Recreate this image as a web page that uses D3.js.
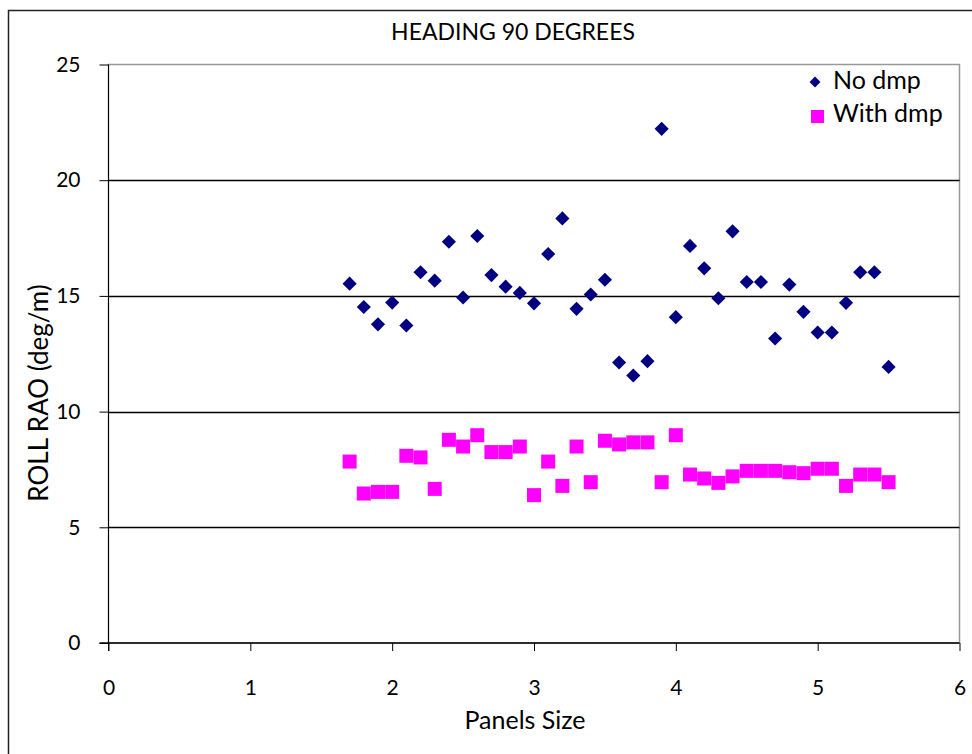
<!DOCTYPE html>
<html><head><meta charset="utf-8">
<script src="https://cdn.jsdelivr.net/npm/d3@7"></script>
<style>body{margin:0;background:#fff}svg{display:block}text{font-family:Lato,"Open Sans",sans-serif;fill:#000}</style>
</head><body><svg id="c" width="972" height="754"></svg>
<script>
const panelSizes=[1.7,1.8,1.9,2.0,2.1,2.2,2.3,2.4,2.5,2.6,2.7,2.8,2.9,3.0,3.1,3.2,3.3,3.4,3.5,3.6,3.7,3.8,3.9,4.0,4.1,4.2,4.3,4.4,4.5,4.6,4.7,4.8,4.9,5.0,5.1,5.2,5.3,5.4,5.5];
const noDmp=[15.53,14.52,13.77,14.71,13.72,16.02,15.66,17.34,14.93,17.59,15.90,15.40,15.13,14.68,16.81,18.35,14.44,15.06,15.70,12.12,11.56,12.18,22.22,14.08,17.16,16.19,14.90,17.79,15.60,15.60,13.16,15.49,14.31,13.42,13.42,14.70,16.02,16.02,11.93];
const withDmp=[7.84,6.46,6.53,6.53,8.09,8.02,6.66,8.78,8.49,8.98,8.25,8.25,8.49,6.39,7.84,6.79,8.49,6.95,8.74,8.58,8.67,8.67,6.95,8.98,7.28,7.11,6.92,7.20,7.44,7.44,7.44,7.38,7.34,7.53,7.53,6.79,7.28,7.28,6.95];
const xTicks=[0,1,2,3,4,5,6];
const yTicks=[0,5,10,15,20,25];
const seriesNames=["No dmp","With dmp"];
const title="HEADING 90 DEGREES", xTitle="Panels Size", yTitle="ROLL RAO (deg/m)";

const svg=d3.select("#c");
const L=108.5,R=959.5,T=64.5,B=643;
const x=d3.scaleLinear().domain([0,6]).range([L,R]);
const y=d3.scaleLinear().domain([0,25]).range([B,T]);

// outer border
svg.append("path").attr("d","M8.5,754 V10.5 H972").attr("fill","none").attr("stroke","#222").attr("stroke-width",1.5);
// plot area border
svg.append("rect").attr("x",L).attr("y",T).attr("width",R-L).attr("height",B-T).attr("fill","none").attr("stroke","#999").attr("stroke-width",1.5);
// gridlines
svg.append("g").selectAll("line").data(yTicks.filter(d=>d>0&&d<25)).join("line")
  .attr("x1",L).attr("x2",R).attr("y1",d=>Math.round(y(d))+0.5).attr("y2",d=>Math.round(y(d))+0.5)
  .attr("stroke","#000").attr("stroke-width",1.3);

// axes
const ya=svg.append("g").attr("transform",`translate(${L},0)`)
  .call(d3.axisLeft(y).tickValues(yTicks).tickFormat(d3.format("d")).tickSize(9).tickPadding(19));
ya.selectAll("text").style("font-size","21px").attr("fill","#000");
ya.selectAll("line").attr("stroke","#000");
ya.select(".domain").attr("stroke","#000").attr("d",`M0,${T}V${B+8}`);
const xa=svg.append("g").attr("transform",`translate(0,${B})`)
  .call(d3.axisBottom(x).tickValues(xTicks).tickFormat(d3.format("d")).tickSize(8).tickPadding(29));
xa.selectAll("text").style("font-size","21px").attr("fill","#000");
xa.selectAll("line").attr("stroke","#000");
xa.select(".domain").attr("stroke","#000").attr("stroke-width",1.5).attr("d",`M${L-9},0H${R}`);

// titles
svg.append("text").attr("x",513).attr("y",40).attr("text-anchor","middle").style("font-size","23px").text(title);
svg.append("text").attr("x",525).attr("y",729).attr("text-anchor","middle").style("font-size","25px").text(xTitle);
svg.append("text").attr("transform","translate(48,393) rotate(-90)").attr("text-anchor","middle").style("font-size","26px").text(yTitle);

// points
svg.append("g").selectAll("path").data(panelSizes.map((p,i)=>[p,noDmp[i]])).join("path")
  .attr("d",d3.symbol().type(d3.symbolSquare).size(100)).attr("transform",d=>`translate(${x(d[0])},${y(d[1])}) rotate(45)`).attr("fill","#000080");
svg.append("g").selectAll("rect").data(panelSizes.map((p,i)=>[p,withDmp[i]])).join("rect")
  .attr("x",d=>x(d[0])-7).attr("y",d=>y(d[1])-7).attr("width",14).attr("height",14).attr("fill","#ff00ff");

// legend
const lg=svg.append("g");
lg.append("path").attr("d",d3.symbol().type(d3.symbolSquare).size(60)).attr("transform","translate(815,82) rotate(45)").attr("fill","#000080");
lg.append("rect").attr("x",811).attr("y",110).attr("width",13).attr("height",13).attr("fill","#ff00ff");
lg.append("text").attr("x",833).attr("y",89).style("font-size","25px").text(seriesNames[0]);
lg.append("text").attr("x",833).attr("y",122).style("font-size","25px").text(seriesNames[1]);
</script></body></html>
